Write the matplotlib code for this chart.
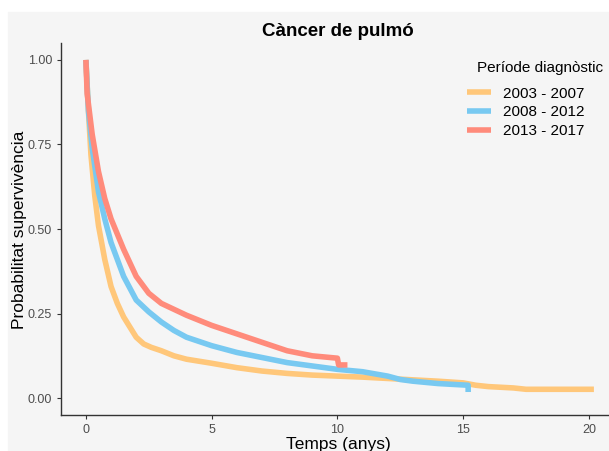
import matplotlib.pyplot as plt
from matplotlib.patches import Rectangle

plt.rcParams['font.family'] = ['Liberation Sans', 'DejaVu Sans']

# data to plot (survival curves)
labels = ['2003 - 2007', '2008 - 2012', '2013 - 2017']
colors = ['#FFC77A', '#78C9F1', '#FF8B7B']

t_2003 = [0, 0.1, 0.2, 0.35, 0.5, 0.75, 1.0, 1.25, 1.5, 2.0, 2.3, 2.6, 3.0, 3.5, 4.0, 5.0, 6.0, 7.0, 8.0,
          9.0, 10, 11, 12, 13, 14, 15, 15.5, 16, 17, 17.5, 20.2]
s_2003 = [1.0, 0.85, 0.72, 0.60, 0.51, 0.41, 0.33, 0.28, 0.24, 0.18, 0.16, 0.15, 0.14, 0.125, 0.115, 0.103,
          0.09, 0.08, 0.073, 0.068, 0.065, 0.062, 0.058, 0.054, 0.05, 0.045, 0.038, 0.034, 0.03, 0.026, 0.026]

t_2008 = [0, 0.1, 0.25, 0.5, 0.75, 1.0, 1.5, 2.0, 2.5, 3.0, 3.5, 4.0, 5.0, 6.0, 7.0, 8.0, 9.0, 10, 11, 12,
          12.5, 13, 14, 15.2, 15.2]
s_2008 = [1.0, 0.85, 0.74, 0.61, 0.53, 0.46, 0.36, 0.29, 0.255, 0.225, 0.2, 0.18, 0.155, 0.135, 0.12, 0.105,
          0.095, 0.085, 0.078, 0.065, 0.055, 0.05, 0.043, 0.038, 0.018]

t_2013 = [0, 0.05, 0.25, 0.5, 0.75, 1.0, 1.5, 2.0, 2.5, 3.0, 4.0, 5.0, 6.0, 7.0, 8.0, 9.0, 10.0, 10.05, 10.4]
s_2013 = [1.0, 0.9, 0.78, 0.67, 0.59, 0.53, 0.44, 0.36, 0.31, 0.28, 0.245, 0.215, 0.19, 0.165, 0.14, 0.125,
          0.118, 0.098, 0.098]

xticks = [0, 5, 10, 15, 20]
yticks = [0.0, 0.25, 0.5, 0.75, 1.0]

W, H = 609, 451
fig = plt.figure(figsize=(W / 100, H / 100), dpi=100, facecolor='white')
bg = '#F5F5F5'
fig.patches.append(Rectangle((8 / W, 0), 1, 1 - 12 / H, transform=fig.transFigure,
                             color=bg, zorder=-10))

ax = fig.add_axes([61 / W, (H - 415) / H, (W - 61) / W, (415 - 43) / H])
ax.set_facecolor(bg)

for t, s, c, lab in zip([t_2003, t_2008, t_2013], [s_2003, s_2008, s_2013], colors, labels):
    ax.plot(t, s, color=c, lw=4, label=lab, solid_capstyle='butt')

ax.set_xlim(-0.99, 20.8)
ax.set_ylim(-0.05, 1.05)
ax.set_xticks(xticks)
ax.set_yticks(yticks)
ax.set_yticklabels(['%.2f' % v for v in yticks])
ax.tick_params(labelsize=9, labelcolor='#4D4D4D', color='#333333', length=3, width=0.8)
for side in ['top', 'right']:
    ax.spines[side].set_visible(False)
for side in ['left', 'bottom']:
    ax.spines[side].set_color('#333333')
    ax.spines[side].set_linewidth(1)

fig.text(338 / W, 1 - 31 / H, 'Càncer de pulmó', fontsize=13.5, fontweight='bold',
         ha='center', va='center')
fig.text(20 / W, 1 - 230 / H, 'Probabilitat supervivència', fontsize=12.5, rotation=90,
         ha='center', va='center')
fig.text(338 / W, 1 - 444 / H, 'Temps (anys)', fontsize=12.5, ha='center', va='center')

# legend title drawn separately (ggplot leaves a larger gap under it)
fig.text(477 / W, 1 - 68 / H, 'Període diagnòstic', fontsize=11, ha='left', va='center')
ax.legend(loc='upper left', bbox_to_anchor=(467 / W, 1 - 86.5 / H),
          bbox_transform=fig.transFigure, frameon=False, fontsize=11,
          handlelength=1.6, handletextpad=0.75, labelspacing=0.32, borderpad=0, borderaxespad=0)

fig.savefig('out.png', dpi=100)
